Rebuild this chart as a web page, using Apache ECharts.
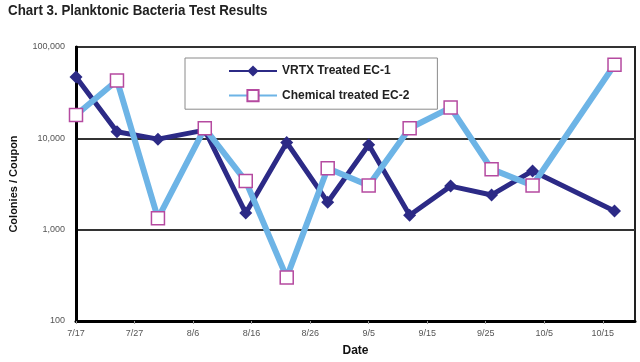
<!DOCTYPE html>
<html>
<head>
<meta charset="utf-8">
<script src="https://cdn.jsdelivr.net/npm/echarts@6/dist/echarts.min.js"></script>
<style>
html,body{margin:0;padding:0;background:#fff;}
#c{width:640px;height:362px;}
</style>
</head>
<body>
<div id="c"></div>
<script>
var sampleDates = ['7/17','7/24','7/31','8/8','8/15','8/22','8/29','9/5','9/12','9/19','9/26','10/3','10/17'];
var vrtx = [47000, 11800, 9800, 12300, 1520, 9000, 2000, 8500, 1440, 3000, 2400, 4400, 1600];
var chem = [18000, 43000, 1330, 12900, 3400, 300, 4700, 3050, 12900, 21700, 4600, 3050, 64000];
var xTickLabels = ['7/17','7/27','8/6','8/16','8/26','9/5','9/15','9/25','10/5','10/15'];
var seriesNames = ['VRTX Treated EC-1', 'Chemical treated EC-2'];
var chartTitle = 'Chart 3. Planktonic Bacteria Test Results';

function dayOffset(s) {
  var p = s.split('/');
  var t = Date.UTC(2000, +p[0] - 1, +p[1]);
  var t0 = Date.UTC(2000, 6, 17);
  return Math.round((t - t0) / 86400000);
}
var xs = sampleDates.map(dayOffset);
function pairs(vals) { return vals.map(function (v, i) { return [xs[i], v]; }); }

var SANS = '"Liberation Sans", Arial, sans-serif';
var chart = echarts.init(document.getElementById('c'), null, {renderer: 'canvas'});
chart.setOption({
  animation: false,
  backgroundColor: '#fff',
  graphic: [{
    type: 'text', left: 8, top: 3, scaleX: 0.89, originX: 0,
    style: {text: chartTitle, font: 'bold 15px ' + SANS, fill: '#222'}
  }],
  legend: {
    data: seriesNames,
    orient: 'vertical',
    left: 185, top: 58,
    padding: [7, 28, 7, 43],
    itemGap: 12,
    itemWidth: 48, itemHeight: 14,
    backgroundColor: '#fff',
    borderColor: '#8a8a8a', borderWidth: 1,
    textStyle: {fontFamily: SANS, fontWeight: 'bold', fontSize: 12, color: '#222'}
  },
  grid: {
    left: 72, right: 5, top: 47, bottom: 39,
    show: true, borderColor: '#222', borderWidth: 2, backgroundColor: 'transparent'
  },
  xAxis: {
    type: 'value', min: 0, max: 95.5, interval: 10,
    name: 'Date', nameLocation: 'middle', nameGap: 24,
    nameTextStyle: {fontFamily: SANS, fontWeight: 'bold', fontSize: 12, color: '#111'},
    axisLine: {show: true, lineStyle: {color: '#000', width: 3}},
    axisTick: {show: true, length: 3, inside: false, lineStyle: {color: '#999', width: 1}},
    splitLine: {show: false},
    axisLabel: {
      margin: 8, fontSize: 9, color: '#555', fontFamily: SANS,
      showMaxLabel: false,
      formatter: function (v) { return (v % 10 === 0 && xTickLabels[v / 10]) ? xTickLabels[v / 10] : ''; }
    }
  },
  yAxis: {
    type: 'log', logBase: 10, min: 100, max: 100000,
    name: 'Colonies / Coupon', nameLocation: 'middle', nameGap: 57, nameRotate: 90,
    nameTextStyle: {fontFamily: SANS, fontWeight: 'bold', fontSize: 11, color: '#111'},
    axisLine: {show: true, lineStyle: {color: '#000', width: 3}},
    axisTick: {show: false},
    splitLine: {show: true, lineStyle: {color: '#333', width: 2}},
    axisLabel: {
      margin: 11, fontSize: 9, color: '#555', fontFamily: SANS,
      formatter: function (v) { return Math.round(v).toLocaleString('en-US'); }
    }
  },
  series: [
    {
      name: seriesNames[0], type: 'line', data: pairs(vrtx),
      symbol: 'diamond', symbolSize: 13, z: 2,
      lineStyle: {color: '#2c2a86', width: 5},
      itemStyle: {color: '#2c2a86'}
    },
    {
      name: seriesNames[1], type: 'line', data: pairs(chem),
      symbol: 'rect', symbolSize: 13, z: 3,
      lineStyle: {color: '#6db4e6', width: 6},
      itemStyle: {color: '#ffffff', borderColor: '#b54aa0', borderWidth: 1.5}
    }
  ]
});
</script>
</body>
</html>
